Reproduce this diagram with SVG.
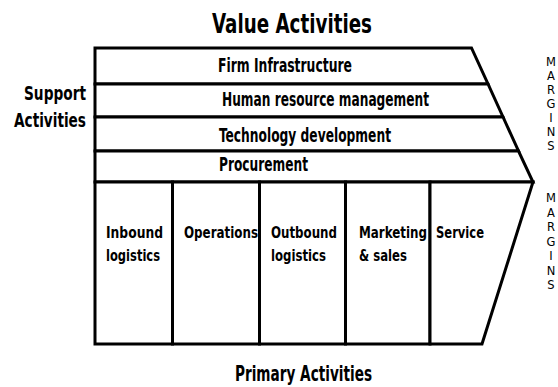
<svg xmlns="http://www.w3.org/2000/svg" width="558" height="387" viewBox="0 0 558 387">
<style>
.box{fill:#fff;stroke:#000;stroke-width:3;stroke-linejoin:miter}
.b{font-family:"DejaVu Sans Condensed","DejaVu Sans",sans-serif;font-stretch:condensed;font-weight:bold;fill:#000}
.t{font-size:27px}
.s{font-size:19px}
.c{font-size:15px}
.p{font-size:22px}
.m{font-family:"DejaVu Sans",sans-serif;font-size:11.5px;fill:#000;text-anchor:middle}
</style>
<rect width="558" height="387" fill="#fff"/>
<g id="title"><text class="b t" x="212" y="33" textLength="160" lengthAdjust="spacingAndGlyphs">Value Activities</text></g>
<g id="support-label">
<text class="b s" x="24" y="100" textLength="62" lengthAdjust="spacingAndGlyphs">Support</text>
<text class="b s" x="14" y="127" textLength="72" lengthAdjust="spacingAndGlyphs">Activities</text>
</g>
<g id="firm-infrastructure">
<polygon class="box" points="95,48 471.5,48 488,84 95,84"/>
<text class="b s" x="218" y="72" textLength="134" lengthAdjust="spacingAndGlyphs">Firm Infrastructure</text>
</g>
<g id="hrm">
<polygon class="box" points="95,84 488,84 503,117 95,117"/>
<text class="b s" x="222" y="106" textLength="207" lengthAdjust="spacingAndGlyphs">Human resource management</text>
</g>
<g id="technology">
<polygon class="box" points="95,117 503,117 518.5,151 95,151"/>
<text class="b s" x="219" y="142" textLength="172" lengthAdjust="spacingAndGlyphs">Technology development</text>
</g>
<g id="procurement">
<polygon class="box" points="95,151 518.5,151 533,182 95,182"/>
<text class="b s" x="219" y="171" textLength="89" lengthAdjust="spacingAndGlyphs">Procurement</text>
</g>
<g id="inbound">
<rect class="box" x="95" y="182" width="77.5" height="162"/>
<text class="b c" x="106" y="238" textLength="57" lengthAdjust="spacingAndGlyphs">Inbound</text>
<text class="b c" x="106" y="261" textLength="54" lengthAdjust="spacingAndGlyphs">logistics</text>
</g>
<g id="operations">
<rect class="box" x="172.5" y="182" width="87" height="162"/>
<text class="b c" x="184" y="238" textLength="74" lengthAdjust="spacingAndGlyphs">Operations</text>
</g>
<g id="outbound">
<rect class="box" x="259.5" y="182" width="86" height="162"/>
<text class="b c" x="271" y="238" textLength="66" lengthAdjust="spacingAndGlyphs">Outbound</text>
<text class="b c" x="271" y="261" textLength="55" lengthAdjust="spacingAndGlyphs">logistics</text>
</g>
<g id="marketing">
<rect class="box" x="345.5" y="182" width="84.5" height="162"/>
<text class="b c" x="359" y="238" textLength="68" lengthAdjust="spacingAndGlyphs">Marketing</text>
<text class="b c" x="359" y="261" textLength="48" lengthAdjust="spacingAndGlyphs">&amp; sales</text>
</g>
<g id="service">
<polygon class="box" points="430,182 533,182 482,344 430,344"/>
<text class="b c" x="436" y="238" textLength="48" lengthAdjust="spacingAndGlyphs">Service</text>
</g>
<g id="primary-label"><text class="b p" x="235" y="381" textLength="137" lengthAdjust="spacingAndGlyphs">Primary Activities</text></g>
<g id="margins-top">
<text class="m" x="551" y="66">M</text>
<text class="m" x="551" y="80">A</text>
<text class="m" x="551" y="94">R</text>
<text class="m" x="551" y="108">G</text>
<text class="m" x="551" y="122">I</text>
<text class="m" x="551" y="136">N</text>
<text class="m" x="551" y="150">S</text>
</g>
<g id="margins-bottom">
<text class="m" x="551" y="202">M</text>
<text class="m" x="551" y="216.5">A</text>
<text class="m" x="551" y="231">R</text>
<text class="m" x="551" y="245.5">G</text>
<text class="m" x="551" y="260">I</text>
<text class="m" x="551" y="274.5">N</text>
<text class="m" x="551" y="289">S</text>
</g>
<g id="connectors"/>
</svg>
